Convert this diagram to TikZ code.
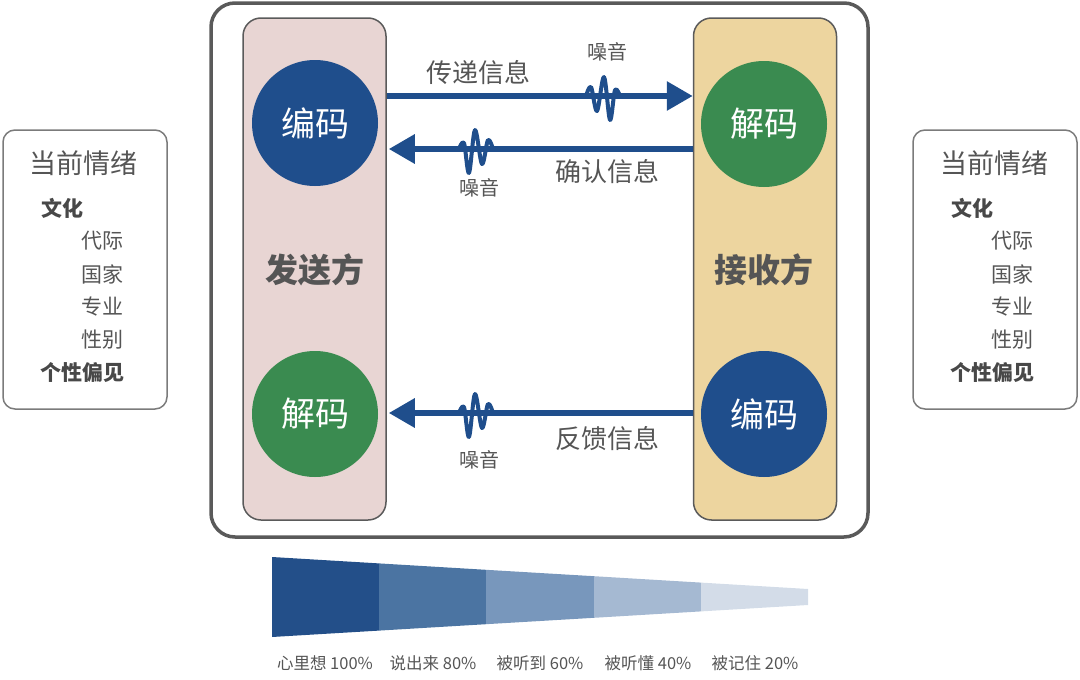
\documentclass[tikz,border=0pt]{standalone}
\usepackage{fontspec}
\setmainfont{Noto Sans CJK SC}
\usetikzlibrary{arrows.meta}
\definecolor{navy}{HTML}{1F4E8C}
\definecolor{leaf}{HTML}{3A8B50}
\definecolor{pinkfill}{HTML}{E8D5D3}
\definecolor{tanfill}{HTML}{EDD59F}
\definecolor{txtgray}{HTML}{555555}
\definecolor{edgegray}{HTML}{5A5A5A}
\definecolor{fa}{HTML}{234F89}
\definecolor{fb}{HTML}{4B74A2}
\definecolor{fc}{HTML}{7897BC}
\definecolor{fd}{HTML}{A5B9D2}
\definecolor{fe}{HTML}{D3DCE8}
\tikzset{
  outerbox/.style={draw=edgegray, line width=3.5pt, rounded corners=24pt, minimum width=657pt, minimum height=534pt, inner sep=0pt},
  column/.style={draw=edgegray, line width=1.5pt, rounded corners=18pt, minimum width=143pt, minimum height=502pt, inner sep=0pt},
  sidebox/.style={draw=edgegray!80, line width=1.5pt, rounded corners=12pt, minimum width=164pt, minimum height=279pt, inner sep=0pt},
  disc/.style={circle, minimum size=126pt, inner sep=0pt, text=white, font=\fontsize{34pt}{36pt}\selectfont},
  role/.style={text=txtgray, font=\fontsize{33pt}{36pt}\selectfont\bfseries},
  msg/.style={draw=navy, line width=6pt, -{Triangle[length=26pt, width=28pt]}},
  msglabel/.style={text=txtgray, font=\fontsize{26pt}{28pt}\selectfont},
  noiselabel/.style={text=txtgray, font=\fontsize{20pt}{22pt}\selectfont},
  noiseline/.style={draw=navy, line width=4pt, line cap=round, line join=round},
  noise/.pic={\draw[noiseline] plot[smooth, tension=0.55] coordinates {(-17,0) (-12,-9) (-6,15) (1,-19) (7,24) (12,-6) (17,0)};},
  head/.style={text=txtgray, font=\fontsize{27pt}{29pt}\selectfont},
  boldItem/.style={text=txtgray!85!black, anchor=west, font=\fontsize{21pt}{23pt}\selectfont\bfseries},
  item/.style={text=txtgray, anchor=west, font=\fontsize{21pt}{23pt}\selectfont},
  funlabel/.style={text=txtgray, font=\fontsize{16.5pt}{18pt}\selectfont}
}
\begin{document}
\begin{tikzpicture}[x=1pt,y=-1pt]
\useasboundingbox (0,0) rectangle (1080,680);

% outer frame and columns
\node[outerbox] (frame) at (539.5,270) {};
\node[column, fill=pinkfill] (sender) at (314.5,269) {};
\node[column, fill=tanfill] (receiver) at (765,269) {};

% circles
\node[disc, fill=navy] (senc) at (315,123) {编码};
\node[disc, fill=leaf] (sdec) at (315,414) {解码};
\node[disc, fill=leaf] (rdec) at (764,124) {解码};
\node[disc, fill=navy] (renc) at (764,414) {编码};

\node[role] (sname) at (315,270) {发送方};
\node[role] (rname) at (764,270) {接收方};

% message arrows
\coordinate (y1) at (0,96);
\coordinate (y2) at (0,149);
\coordinate (y3) at (0,413);
\draw[msg] (sender.east |- y1) -- (receiver.west |- y1);
\draw[msg] (receiver.west |- y2) -- ([xshift=2pt]sender.east |- y2);
\draw[msg] (receiver.west |- y3) -- ([xshift=2pt]sender.east |- y3);

\pic at (603,96) {noise};
\pic[xscale=-1] at (476,149) {noise};
\pic[xscale=-1] at (476,413) {noise};

\node[msglabel] (m1) at (478,73) {传递信息};
\node[noiselabel] (n1) at (607,52) {噪音};
\node[msglabel] (m2) at (607,172) {确认信息};
\node[noiselabel] (n2) at (479,188) {噪音};
\node[msglabel] (m3) at (607,439) {反馈信息};
\node[noiselabel] (n3) at (479,460) {噪音};

% side boxes
\node[sidebox] (lbox) at (85,269.5) {};
\node[head] (lhead) at (84,163) {当前情绪};
\node[boldItem] (lcult) at (38,208) {文化};
\node[item] (l1) at (78,241) {代际};
\node[item] (l2) at (78,274) {国家};
\node[item] (l3) at (78,307) {专业};
\node[item] (l4) at (78,340) {性别};
\node[boldItem] (lbias) at (37,373) {个性偏见};

\node[sidebox] (rbox) at (995,269.5) {};
\node[head] (rhead) at (994,163) {当前情绪};
\node[boldItem] (rcult) at (948,208) {文化};
\node[item] (r1) at (988,241) {代际};
\node[item] (r2) at (988,274) {国家};
\node[item] (r3) at (988,307) {专业};
\node[item] (r4) at (988,340) {性别};
\node[boldItem] (rbias) at (947,373) {个性偏见};

% funnel
\fill[fa] (272,557) -- (379,563.4) -- (379,630.6) -- (272,637) -- cycle;
\fill[fb] (379,563.4) -- (486,569.8) -- (486,624.2) -- (379,630.6) -- cycle;
\fill[fc] (486,569.8) -- (594,576.2) -- (594,617.8) -- (486,624.2) -- cycle;
\fill[fd] (594,576.2) -- (701,582.6) -- (701,611.4) -- (594,617.8) -- cycle;
\fill[fe] (701,582.6) -- (808,589) -- (808,605) -- (701,611.4) -- cycle;

\node[funlabel] (f1) at (325,663) {心里想 100\%};
\node[funlabel] (f2) at (433,663) {说出来 80\%};
\node[funlabel] (f3) at (540,663) {被听到 60\%};
\node[funlabel] (f4) at (648,663) {被听懂 40\%};
\node[funlabel] (f5) at (755,663) {被记住 20\%};
\end{tikzpicture}
\end{document}
